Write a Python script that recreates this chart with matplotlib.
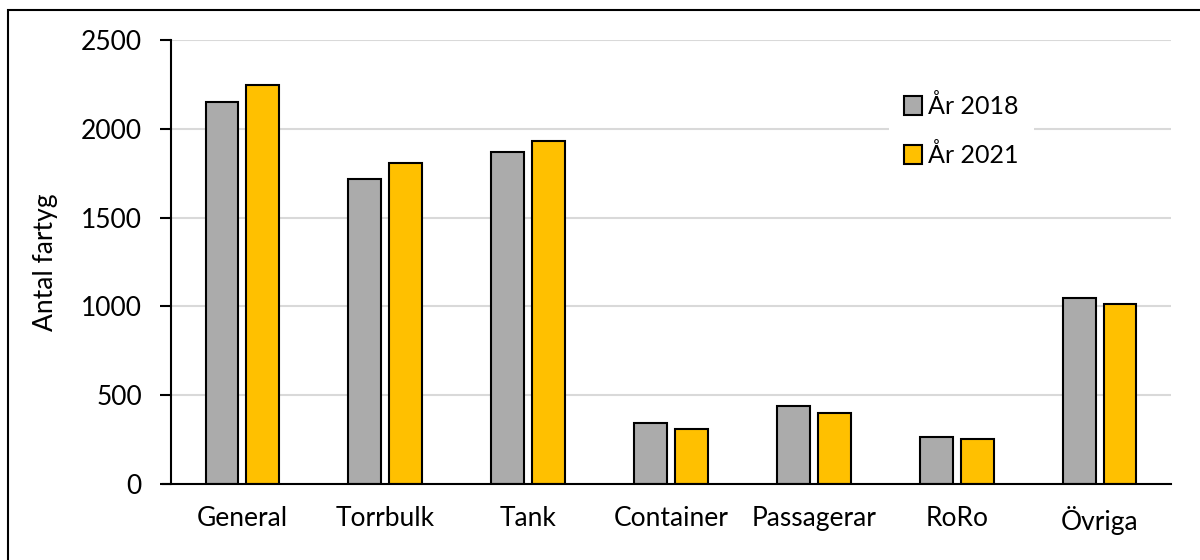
import matplotlib.pyplot as plt
import numpy as np
from matplotlib.patches import Rectangle

plt.rcParams['font.family'] = ['Lato', 'DejaVu Sans']

categories = ['General', 'Torrbulk', 'Tank', 'Container', 'Passagerar', 'RoRo', 'Övriga']
year_2018 = [2150, 1720, 1870, 345, 440, 262, 1050]
year_2021 = [2245, 1810, 1930, 310, 400, 255, 1012]
y_ticks = [0, 500, 1000, 1500, 2000, 2500]

fig = plt.figure(figsize=(12, 5.6), dpi=100)
ax = fig.add_axes([171 / 1200, 1 - 484 / 560, 1000 / 1200, 444 / 560])

x = np.arange(len(categories))
w = 0.23
gap = 0.056
ax.bar(x - (w + gap) / 2, year_2018, w, color='#ababab', edgecolor='black',
       linewidth=1.5, label='År 2018', zorder=3)
ax.bar(x + (w + gap) / 2, year_2021, w, color='#ffc000', edgecolor='black',
       linewidth=1.5, label='År 2021', zorder=3)

ax.set_xlim(-0.5, len(categories) - 0.5)
ax.set_ylim(0, 2500)
ax.set_yticks(y_ticks)
ax.set_xticks(x)
ax.set_xticklabels(categories, fontsize=19)
ax.tick_params(axis='x', length=0, pad=16)
ax.tick_params(axis='y', length=8, width=1.5, pad=13, labelsize=19)
ax.grid(axis='y', color='#d9d9d9', linewidth=1.5, zorder=0)
ax.set_axisbelow(True)
for s in ['top', 'right']:
    ax.spines[s].set_visible(False)
ax.spines['left'].set_linewidth(1.5)
ax.spines['bottom'].set_linewidth(1.5)
ax.spines['bottom'].set_bounds(-0.5 - 8 / 143, len(categories) - 0.5)
ax.spines['bottom'].set_zorder(4)

ax.set_ylabel('Antal fartyg', fontsize=19, labelpad=16)

leg = ax.legend(loc='upper left', bbox_to_anchor=(0.705, 0.94), fontsize=18,
                frameon=True, framealpha=1, edgecolor='white', fancybox=False,
                handlelength=0.75, handleheight=0.75, handletextpad=0.25,
                labelspacing=1.0, borderpad=0.6)
leg.get_frame().set_linewidth(0)

# outer chart frame (only top and left edges visible in the crop)
fig.patches.append(Rectangle((8 / 1200, -0.1), 1.2, 1.1 - 10 / 560,
                             transform=fig.transFigure, fill=False,
                             edgecolor='black', linewidth=1.5))

fig.savefig('out.png', dpi=100)
